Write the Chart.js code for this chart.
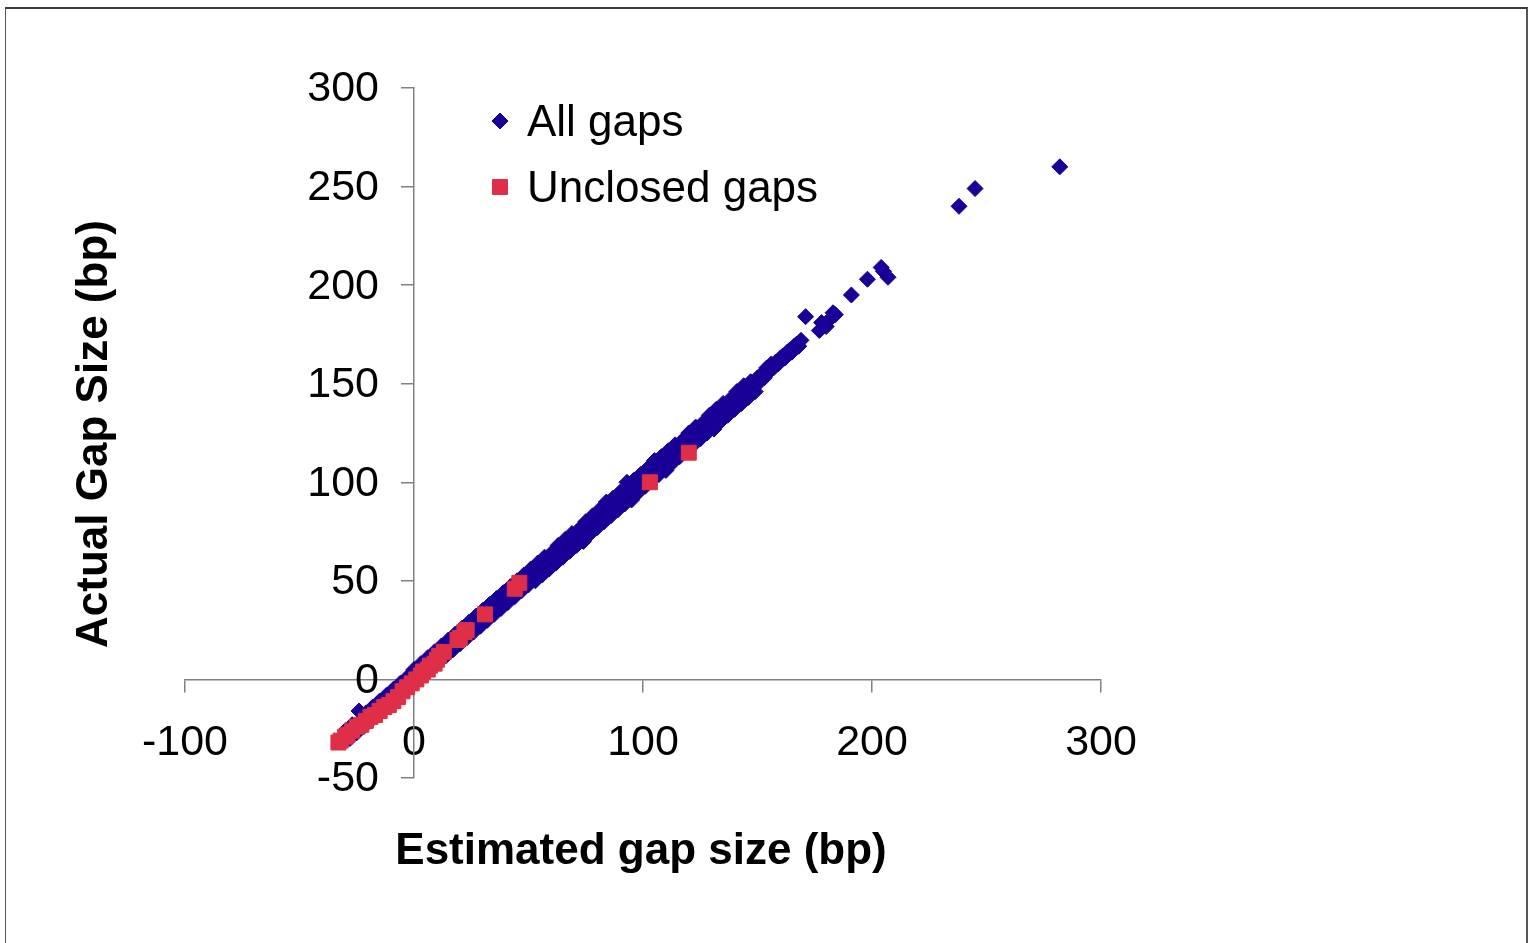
<!DOCTYPE html>
<html>
<head>
<meta charset="utf-8">
<script src="https://cdn.jsdelivr.net/npm/chart.js@4.4.0/dist/chart.umd.min.js"></script>
<style>
  html, body { margin: 0; padding: 0; background: #ffffff; }
  #wrap { position: relative; width: 1535px; height: 943px; overflow: hidden; background: #fff; }
  #frame { position: absolute; left: 5px; top: 7px; width: 1520px; height: 1000px;
           border-top: 2px solid #3a3a3a; border-left: 1.5px solid #555; border-right: 2px solid #555; }
  #c { position: absolute; left: 0; top: 0; }
</style>
</head>
<body>
<div id="wrap">
  <div id="frame"></div>
  <canvas id="c" width="1535" height="943"></canvas>
</div>
<script>
// ---- Data ----
const seriesNames = ["All gaps", "Unclosed gaps"];
const xTitle = "Estimated gap size (bp)";
const yTitle = "Actual Gap Size (bp)";
const xTicks = [-100, 0, 100, 200, 300];
const yTicks = [-50, 0, 50, 100, 150, 200, 250, 300];

// All gaps: [estimated, actual]
const allGaps = [
  [-30,-26],[-29,-29],[-28,-30],[-27,-23],[-26,-26],[-25,-27],[-24,-16],[-23,-23],[-22,-24],[-21,-17],
  [-20,-20],[-19,-21],[-18,-14],[-17,-17],[-16,-18],[-15,-11],[-14,-14],[-13,-15],[-12,-8],[-11,-11],
  [-10,-12],[-9,-5],[-8,-8],[-7,-9],[-6,-2],[-5,-5],[-4,-6],[-3,1],[-2,-2],[-1,-3],
  [0,5],[1,2],[2,0],[3,8],[4,5],[5,3],[6,11],[7,8],[8,6],[9,14],
  [10,11],[11,9],[12,17],[13,14],[14,12],[15,20],[16,17],[17,15],[18,23],[19,20],
  [20,18],[21,26],[22,23],[23,21],[24,29],[25,26],[26,24],[27,32],[28,29],[29,27],
  [30,35],[31,32],[32,30],[33,38],[34,35],[35,33],[36,41],[37,38],[38,36],[39,44],
  [40,41],[41,39],[42,47],[43,44],[44,42],[45,50],[46,47],[47,45],[48,53],[49,50],
  [50,48],[51,56],[52,52],[53,50],[54,59],[55,55],[56,53],[57,62],[58,58],[59,56],
  [60,64],[61,61],[62,59],[63,68],[64,64],[65,62],[66,71],[67,67],[68,65],[69,74],
  [70,70],[71,68],[72,76],[73,73],[74,70],[75,80],[76,76],[77,74],[78,83],[79,79],
  [80,77],[81,86],[82,82],[83,80],[84,90],[85,85],[86,83],[87,92],[88,88],[89,86],
  [90,95],[91,91],[92,89],[93,100],[93,97],[94,94],[95,91],[96,101],[97,97],[98,95],
  [99,104],[100,100],[101,98],[102,107],[103,103],[104,101],[105,111],[106,106],[107,104],[108,113],
  [109,109],[110,106],[111,116],[112,112],[113,110],[114,119],[115,115],[116,113],[117,121],[118,118],
  [119,116],[120,125],[121,121],[122,119],[123,128],[124,124],[125,122],[126,130],[127,127],[128,125],
  [129,134],[130,130],[131,127],[132,137],[133,133],[134,131],[135,140],[136,136],[137,134],[138,142],
  [139,139],[140,137],[141,146],[142,142],[143,140],[144,149],[145,145],[146,143],[147,151],[148,148],
  [149,146],[150,153],[151,151],[152,155],[153,153],[154,158],[155,156],[156,160],[157,158],[158,161],
  [159,160],[160,163],[161,164],[162,163],[163,166],[164,167],[165,166],[166,169],[167,170],[168,169],
  [169,172],[171,184],[177,177],[178,181],[180,179],[181,182],[183,186],[184,185],[191,195],[198,203],
  [204,209],[205,207],[207,204],[238,240],[245,249],[282,260]
];

// Unclosed gaps: [estimated, actual]
const unclosedGaps = [
  [-33,-32],[-32,-31],[-30,-29],[-29,-28],[-27,-26],[-25,-24],[-23,-23],[-21,-21],[-19,-19],[-17,-18],
  [-15,-16],[-13,-14],[-11,-13],[-9,-11],[-7,-9],[-5,-6],[-3,-4],[-1,-2],[1,0],[3,2],
  [4,4],[6,5],[7,7],[9,8],[10,10],[11,12],[13,14],[19,20],[20,21],[22,24],
  [23,25],[31,33],[44,46],[46,49],[103,100],[120,115]
];

const blue = '#1a0096';
const red = '#df2f48';
const axisGray = '#808080';
const FONT = '"Liberation Sans", Arial, sans-serif';

const toPts = arr => arr.map(p => ({ x: p[0], y: p[1] }));

const overlay = {
  id: 'overlay',
  afterDraw(chart) {
    const ctx = chart.ctx;
    const xs = chart.scales.x, ys = chart.scales.y;
    ctx.save();
    // Y tick labels (left of the y axis that crosses at x = 0)
    ctx.fillStyle = '#000';
    ctx.font = '43px ' + FONT;
    ctx.textAlign = 'right';
    ctx.textBaseline = 'middle';
    const axisX = xs.getPixelForValue(0);
    ys.ticks.forEach(t => {
      ctx.fillText(String(t.value), axisX - 12 - 23, ys.getPixelForValue(t.value) + 1.5);
    });
    // Legend
    const items = [
      { ds: chart.data.datasets[0], y: 121 },
      { ds: chart.data.datasets[1], y: 187 }
    ];
    items.forEach(it => {
      const ds = it.ds;
      ctx.fillStyle = ds.backgroundColor;
      ctx.strokeStyle = ds.borderColor;
      ctx.lineWidth = 1;
      const cx = 500, cy = it.y;
      ctx.beginPath();
      if (ds.pointStyle === 'rectRot') {
        const r = 8;
        ctx.moveTo(cx, cy - r); ctx.lineTo(cx + r, cy); ctx.lineTo(cx, cy + r); ctx.lineTo(cx - r, cy);
      } else {
        const s = 7.5;
        ctx.rect(cx - s, cy - s, 2 * s, 2 * s);
      }
      ctx.closePath();
      ctx.fill(); ctx.stroke();
      ctx.fillStyle = '#000';
      ctx.font = '44px ' + FONT;
      ctx.textAlign = 'left';
      ctx.textBaseline = 'middle';
      ctx.fillText(ds.label, 527, cy + 3);
    });
    // Axis titles
    ctx.fillStyle = '#000';
    ctx.font = 'bold 44px ' + FONT;
    ctx.textAlign = 'center';
    ctx.textBaseline = 'middle';
    ctx.fillText(xTitle, 641, 852);
    ctx.translate(95, 434);
    ctx.rotate(-Math.PI / 2);
    ctx.fillText(yTitle, 0, 0);
    ctx.restore();
  }
};

new Chart(document.getElementById('c'), {
  type: 'scatter',
  data: {
    datasets: [
      {
        label: seriesNames[0],
        data: toPts(allGaps),
        pointStyle: 'rectRot',
        pointRadius: 8,
        pointHoverRadius: 8,
        backgroundColor: blue,
        borderColor: blue,
        borderWidth: 1,
        order: 2
      },
      {
        label: seriesNames[1],
        data: toPts(unclosedGaps),
        pointStyle: 'rect',
        pointRadius: 10.6,
        pointHoverRadius: 10.6,
        backgroundColor: red,
        borderColor: red,
        borderWidth: 1,
        order: 1
      }
    ]
  },
  options: {
    responsive: false,
    animation: false,
    events: [],
    layout: { padding: { left: 185, right: 434, top: 88, bottom: 165 } },
    plugins: { legend: { display: false }, tooltip: { enabled: false }, title: { display: false } },
    scales: {
      x: {
        type: 'linear',
        position: { y: 0 },
        min: -100, max: 300,
        afterBuildTicks: s => { s.ticks = xTicks.map(v => ({ value: v })); },
        ticks: { color: '#000', font: { family: FONT, size: 43 }, padding: 26, maxRotation: 0, autoSkip: false },
        grid: { drawOnChartArea: false, drawTicks: true, tickLength: 12, color: axisGray, lineWidth: 1.5 },
        border: { display: true, color: axisGray, width: 1.5 }
      },
      y: {
        type: 'linear',
        position: { x: 0 },
        min: -50, max: 300,
        afterBuildTicks: s => { s.ticks = yTicks.map(v => ({ value: v })); },
        ticks: { display: false, autoSkip: false },
        grid: { drawOnChartArea: false, drawTicks: true, tickLength: 12, color: axisGray, lineWidth: 1.5 },
        border: { display: true, color: axisGray, width: 1.5 }
      }
    }
  },
  plugins: [overlay]
});
</script>
</body>
</html>
